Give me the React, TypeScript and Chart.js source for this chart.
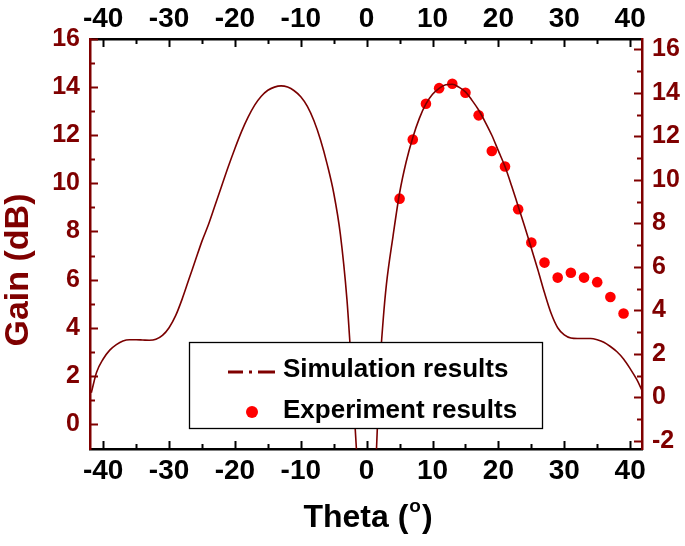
import React, { useEffect, useRef } from "react";
import { Chart, registerables } from "chart.js";

Chart.register(...registerables);

// ---------- data ----------
const simTheta = [
  -41.8, -41, -40, -39, -38, -37, -36, -35, -34, -33, -32, -31, -30, -29, -28, -27, -26, -25,
  -24, -23, -22, -21, -20, -19, -18, -17, -16, -15, -14, -13, -12, -11, -10, -9, -8, -7, -6,
  -5, -4, -3, -2.5, -2, -1.5, -1, 0, 1, 1.5, 2, 2.5, 3, 4, 5, 6, 7, 8, 9, 10, 11, 12, 13, 14,
  15, 16, 17, 18, 19, 20, 21, 22, 23, 24, 25, 26, 27, 28, 29, 30, 31, 32, 33, 34, 35, 36, 37,
  38, 39, 40, 41, 41.8,
];
const simGain = [
  1.3, 2.15, 2.7, 3.07, 3.3, 3.45, 3.5, 3.5, 3.49, 3.48, 3.52, 3.68, 4.0, 4.5, 5.2, 6.0, 6.8, 7.6,
  8.3, 9.1, 9.9, 10.7, 11.45, 12.15, 12.75, 13.25, 13.62, 13.87, 14.0, 14.05, 14.0, 13.85, 13.6, 13.2,
  12.6, 11.8, 10.8, 9.6, 7.9, 5.2, 3.2, 1.0, -1.3, -4, -12, -4, -1.0, 2.3, 4.3, 5.8, 7.8, 9.6,
  10.9, 11.9, 12.7, 13.3, 13.7, 13.95, 14.1, 14.12, 14.0, 13.8, 13.45, 13.05, 12.55, 12.0, 11.35,
  10.7, 9.9, 9.05, 8.2, 7.3, 6.4, 5.45, 4.6, 4.0, 3.7, 3.57, 3.55, 3.55, 3.55, 3.5, 3.4, 3.22,
  3.0, 2.7, 2.3, 1.85, 1.4,
];
const expTheta = [5, 7, 9, 11, 13, 15, 17, 19, 21, 23, 25, 27, 29, 31, 33, 35, 37, 39];
const expGain = [
  9.14, 11.86, 13.5, 14.22, 14.42, 14.01, 12.97, 11.33, 10.62, 8.65, 7.12, 6.2, 5.51, 5.73, 5.51,
  5.3, 4.62, 3.86,
];

const xMajorTicks = [-40, -30, -20, -10, 0, 10, 20, 30, 40];
const xMinorTicks = [-35, -25, -15, -5, 5, 15, 25, 35];
const leftMajorTicks = [0, 2, 4, 6, 8, 10, 12, 14, 16];
const leftMinorTicks = [1, 3, 5, 7, 9, 11, 13, 15];
const rightMajorTicks = [-2, 0, 2, 4, 6, 8, 10, 12, 14, 16];
const rightMinorTicks = [-1, 1, 3, 5, 7, 9, 11, 13, 15];

const seriesNames = ["Simulation results", "Experiment results"];
const yTitle = "Gain (dB)";
const xTitleMain = "Theta (";
const xTitleSup = "o";
const xTitleEnd = ")";

// ---------- styles ----------
const DARK = "#7f0000";
const RED = "#ff0000";
const FONT = "'Liberation Sans', Arial, Helvetica, sans-serif";
const XTICK_FONT = `bold 28px ${FONT}`;
const YTICK_FONT = `bold 25px ${FONT}`;
const XTITLE_FONT = `bold 32px ${FONT}`;
const YTITLE_FONT = `bold 34px ${FONT}`;
const LEGEND_FONT = `bold 26px ${FONT}`;

const decorPlugin = {
  id: "decor",
  afterDatasetsDraw(chart: any) {
    const ctx: CanvasRenderingContext2D = chart.ctx;
    const { left, right, top, bottom } = chart.chartArea;
    const sx = chart.scales.x;
    const sy = chart.scales.y;
    const sy2 = chart.scales.y2;
    ctx.save();
    const seg = (x0: number, y0: number, x1: number, y1: number) => {
      ctx.beginPath();
      ctx.moveTo(x0, y0);
      ctx.lineTo(x1, y1);
      ctx.stroke();
    };
    // x tick marks (inward) top & bottom
    ctx.strokeStyle = "#000";
    ctx.lineWidth = 2;
    xMajorTicks.forEach((v) => {
      const p = Math.round(sx.getPixelForValue(v)) + 0.5;
      seg(p, bottom, p, bottom - 8);
      seg(p, top, p, top + 8);
    });
    xMinorTicks.forEach((v) => {
      const p = Math.round(sx.getPixelForValue(v)) + 0.5;
      seg(p, bottom, p, bottom - 5);
      seg(p, top, p, top + 5);
    });
    // y tick marks
    ctx.strokeStyle = DARK;
    leftMajorTicks.forEach((v) => {
      const p = Math.round(sy.getPixelForValue(v)) + 0.5;
      seg(left, p, left + 8, p);
    });
    leftMinorTicks.forEach((v) => {
      const p = Math.round(sy.getPixelForValue(v)) + 0.5;
      seg(left, p, left + 5, p);
    });
    rightMajorTicks.forEach((v) => {
      const p = Math.round(sy2.getPixelForValue(v)) + 0.5;
      seg(right, p, right - 8, p);
    });
    rightMinorTicks.forEach((v) => {
      const p = Math.round(sy2.getPixelForValue(v)) + 0.5;
      seg(right, p, right - 5, p);
    });

    // legend
    const lx = left + 99;
    const ly = top + 303;
    const lw = 353;
    const lh = 86;
    ctx.fillStyle = "#fff";
    ctx.fillRect(lx, ly, lw, lh);
    ctx.strokeStyle = "#000";
    ctx.lineWidth = 1.3;
    ctx.strokeRect(lx + 0.5, ly + 0.5, lw, lh);
    // dash-dot sample
    const sy1 = ly + 30;
    ctx.strokeStyle = DARK;
    ctx.lineWidth = 3;
    seg(lx + 39, sy1, lx + 54, sy1);
    seg(lx + 60, sy1, lx + 63, sy1);
    seg(lx + 69, sy1, lx + 86, sy1);
    // dot sample
    ctx.fillStyle = RED;
    ctx.beginPath();
    ctx.arc(lx + 63, ly + 70, 6, 0, Math.PI * 2);
    ctx.fill();
    ctx.fillStyle = "#000";
    ctx.font = LEGEND_FONT;
    ctx.textAlign = "left";
    ctx.textBaseline = "middle";
    ctx.fillText(seriesNames[0], lx + 94, ly + 28);
    ctx.fillText(seriesNames[1], lx + 94, ly + 69);
    ctx.restore();
  },
  afterDraw(chart: any) {
    const ctx: CanvasRenderingContext2D = chart.ctx;
    const { left, right, top, bottom } = chart.chartArea;
    const sx = chart.scales.x;
    const sy = chart.scales.y;
    const sy2 = chart.scales.y2;
    ctx.save();
    ctx.textBaseline = "middle";
    // x labels
    ctx.font = XTICK_FONT;
    ctx.fillStyle = "#000";
    ctx.textAlign = "center";
    xMajorTicks.forEach((v) => {
      const p = sx.getPixelForValue(v);
      ctx.fillText(String(v), p, bottom + 22);
      ctx.fillText(String(v), p, top - 20);
    });
    // y labels
    ctx.font = YTICK_FONT;
    ctx.fillStyle = DARK;
    ctx.textAlign = "right";
    leftMajorTicks.forEach((v) => {
      ctx.fillText(String(v), left - 10, sy.getPixelForValue(v));
    });
    ctx.textAlign = "left";
    rightMajorTicks.forEach((v) => {
      ctx.fillText(String(v), right + 10, sy2.getPixelForValue(v));
    });
    // y title
    ctx.font = YTITLE_FONT;
    ctx.save();
    ctx.translate(19, 270);
    ctx.rotate(-Math.PI / 2);
    ctx.textAlign = "center";
    ctx.fillStyle = DARK;
    ctx.fillText(yTitle, 0, 0);
    ctx.restore();
    // x title with superscript
    ctx.font = XTITLE_FONT;
    ctx.fillStyle = "#000";
    ctx.textAlign = "left";
    const supFont = `bold 19px ${FONT}`;
    const w1 = ctx.measureText(xTitleMain).width;
    ctx.font = supFont;
    const w2 = ctx.measureText(xTitleSup).width;
    ctx.font = XTITLE_FONT;
    const w3 = ctx.measureText(xTitleEnd).width;
    const total = w1 + w2 + 2 + w3;
    const cx = 368;
    const ty = 518;
    let xx = cx - total / 2;
    ctx.fillText(xTitleMain, xx, ty);
    xx += w1;
    ctx.font = supFont;
    ctx.fillText(xTitleSup, xx + 1, ty - 11);
    xx += w2 + 2;
    ctx.font = XTITLE_FONT;
    ctx.fillText(xTitleEnd, xx, ty);
    ctx.restore();
  },
};

export default function App() {
  const canvasRef = useRef<HTMLCanvasElement | null>(null);

  useEffect(() => {
    if (!canvasRef.current) return;
    const chart = new Chart(canvasRef.current, {
      type: "scatter",
      data: {
        datasets: [
          {
            label: seriesNames[0],
            data: simTheta.map((t, i) => ({ x: t, y: simGain[i] })),
            showLine: true,
            borderColor: "#7a0000",
            borderWidth: 1.6,
            pointRadius: 0,
            pointHoverRadius: 0,
            cubicInterpolationMode: "monotone",
            xAxisID: "x",
            yAxisID: "y",
          },
          {
            label: seriesNames[1],
            data: expTheta.map((t, i) => ({ x: t, y: expGain[i] })),
            showLine: false,
            backgroundColor: RED,
            borderWidth: 0,
            pointRadius: 5.3,
            xAxisID: "x",
            yAxisID: "y2",
          },
        ],
      },
      options: {
        animation: false,
        responsive: false,
        maintainAspectRatio: false,
        layout: { padding: 0 },
        plugins: {
          legend: { display: false },
          tooltip: { enabled: false },
        },
        scales: {
          x: {
            type: "linear",
            position: "bottom",
            min: -42,
            max: 41.8,
            ticks: { display: false },
            grid: { display: false, drawTicks: false },
            border: { display: true, color: "#000", width: 2.5 },
            afterFit: (s: any) => {
              s.height = 97;
            },
          },
          x2: {
            type: "linear",
            position: "top",
            min: -42,
            max: 41.8,
            ticks: { display: false },
            grid: { display: false, drawTicks: false },
            border: { display: true, color: "#000", width: 2.5 },
            afterFit: (s: any) => {
              s.height = 39;
            },
          },
          y: {
            type: "linear",
            position: "left",
            min: -1.04,
            max: 16,
            ticks: { display: false },
            grid: { display: false, drawTicks: false },
            border: { display: true, color: DARK, width: 2.5 },
            afterFit: (s: any) => {
              s.width = 90;
            },
          },
          y2: {
            type: "linear",
            position: "right",
            min: -2.37,
            max: 16.48,
            ticks: { display: false },
            grid: { display: false, drawTicks: false },
            border: { display: true, color: DARK, width: 2.5 },
            afterFit: (s: any) => {
              s.width = 43;
            },
          },
        },
      } as any,
      plugins: [decorPlugin],
    });
    return () => chart.destroy();
  }, []);

  return (
    <div style={{ position: "absolute", left: 0, top: 0, width: 685, height: 546, background: "#fff" }}>
      <canvas ref={canvasRef} width={685} height={546} style={{ width: 685, height: 546 }} />
    </div>
  );
}
